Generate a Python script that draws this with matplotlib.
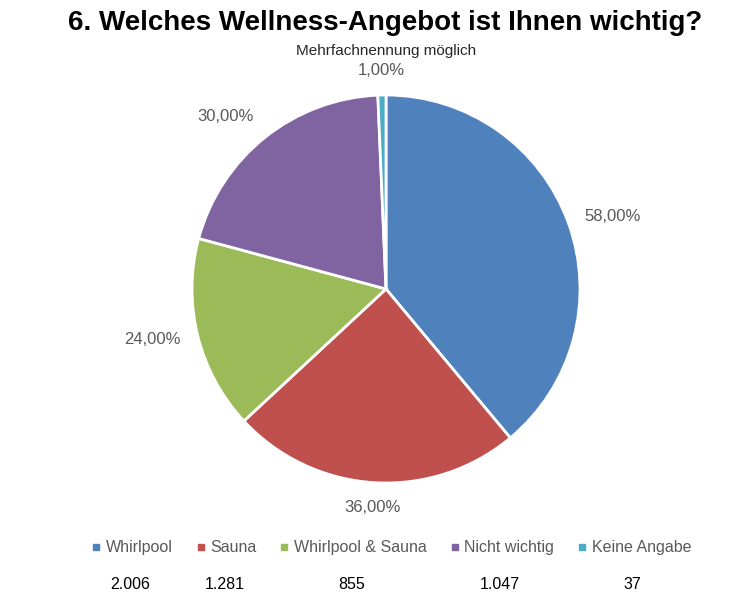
import numpy as np
import matplotlib
matplotlib.use("Agg")
import matplotlib.pyplot as plt

plt.rcParams['font.family'] = ['Liberation Sans', 'DejaVu Sans']

# Daten
categories = ["Whirlpool", "Sauna", "Whirlpool & Sauna", "Nicht wichtig", "Keine Angabe"]
percent = [58.0, 36.0, 24.0, 30.0, 1.0]
counts = ["2.006", "1.281", "855", "1.047", "37"]
colors = ["#4F81BD", "#C0504D", "#9BBB59", "#8064A2", "#4BACC6"]

grey = "#595959"

fig = plt.figure(figsize=(7.41, 6.0), dpi=100)

# Kreis: Mitte (386, 289) px, Radius ~194 px
r_px = 194
cx, cy = 386, 289
ax = fig.add_axes([(cx - r_px) / 741, 1 - (cy + r_px) / 600, 2 * r_px / 741, 2 * r_px / 600])
wedges, _ = ax.pie(percent, colors=colors, startangle=90, counterclock=False,
                   wedgeprops=dict(edgecolor="white", linewidth=2))
ax.set_xlim(-1, 1)
ax.set_ylim(-1, 1)
ax.set_aspect("auto")
ax.axis("off")

# Beschriftungen aussen (wie Excel "optimale Anpassung")
for w, p in zip(wedges, percent):
    ang = np.deg2rad((w.theta1 + w.theta2) / 2)
    s, c = np.cos(ang), np.sin(ang)
    ha = "left" if s > 0.3 else ("right" if s < -0.3 else "center")
    va = "bottom" if c > 0.5 else ("top" if c < -0.5 else "center")
    ax.text(1.09 * s, 1.09 * c, ("%.2f%%" % p).replace(".", ","),
            ha=ha, va=va, fontsize=12, color=grey, clip_on=False)

fig.text(0.52, 0.962, "6. Welches Wellness-Angebot ist Ihnen wichtig?",
         ha="center", va="center", fontsize=20, fontweight="bold", color="black")
fig.text(0.521, 0.915, "Mehrfachnennung möglich", ha="center", va="center",
         fontsize=11, color="#262626")

# Legende
handles = [plt.Line2D([], [], marker="s", linestyle="", markersize=5, color=col) for col in colors]
leg = fig.legend(handles, categories, loc="center", bbox_to_anchor=(0.528, 0.087),
                 ncol=5, frameon=False, fontsize=11.5, handlelength=0.6,
                 handletextpad=0.3, columnspacing=1.45, labelcolor=grey)

fig.canvas.draw()
inv = fig.transFigure.inverted()
for h, t, n in zip(leg.legend_handles, leg.get_texts(), counts):
    tb = t.get_window_extent()
    hb = h.get_window_extent()
    x0 = min(tb.x0, hb.x0)
    xm = (x0 + tb.x1) / 2
    fx, _ = inv.transform((xm, 0))
    fig.text(fx, 0.026, n, ha="center", va="center", fontsize=11.5, color="black")

fig.savefig("out.png", dpi=100)
